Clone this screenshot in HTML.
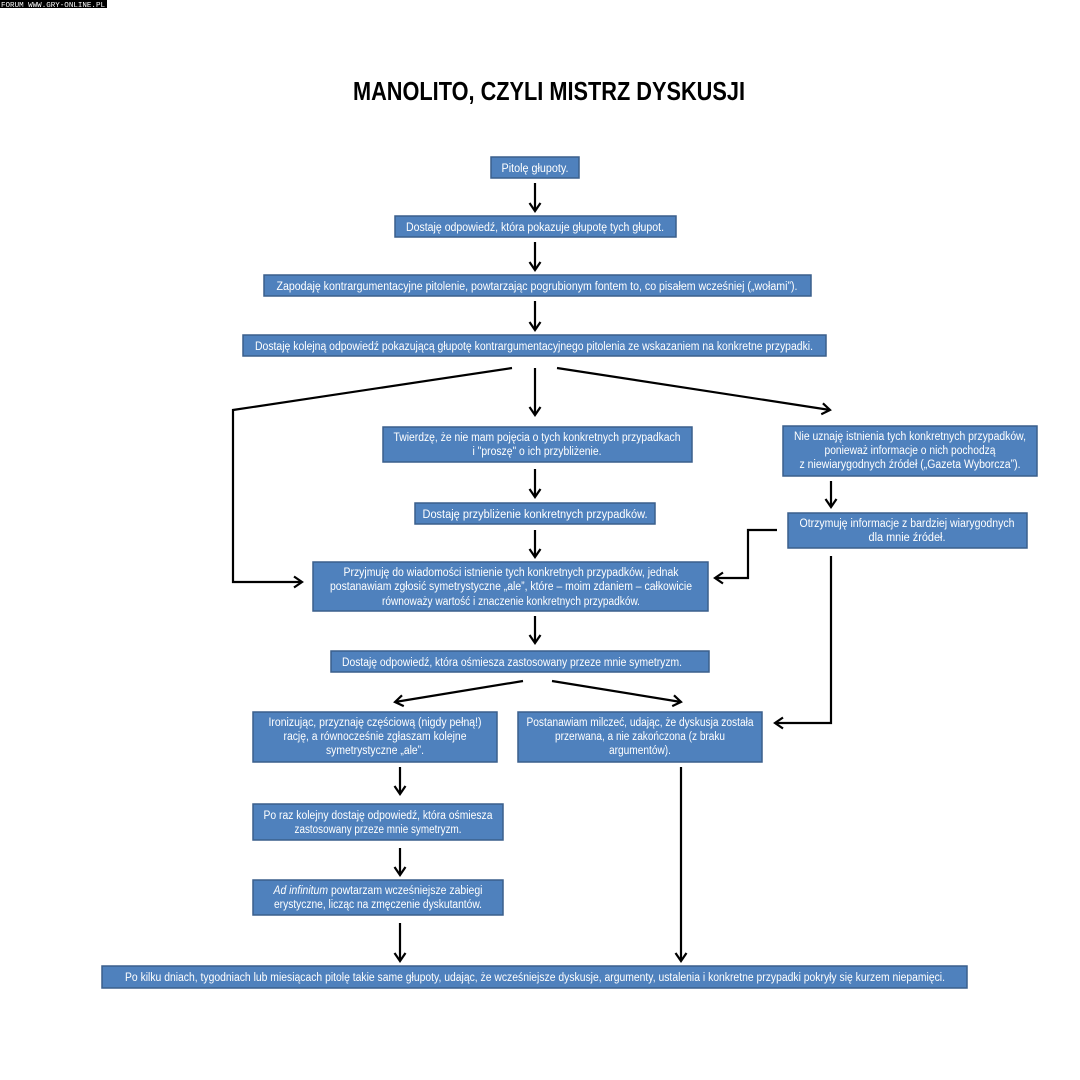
<!DOCTYPE html>
<html><head><meta charset="utf-8">
<style>
html,body{margin:0;padding:0;background:#fff;}
svg{display:block;}
.b{fill:#4F81BD;stroke:#3A5F8C;stroke-width:1.5;}
.t{fill:#fff;font-family:"Liberation Sans",sans-serif;font-size:11.5px;text-anchor:middle;}
.c{stroke:#000;stroke-width:2.2;fill:none;}
</style></head>
<body>
<svg width="1080" height="1080" viewBox="0 0 1080 1080" xmlns="http://www.w3.org/2000/svg">
<defs>
<marker id="a" markerUnits="userSpaceOnUse" markerWidth="14" markerHeight="14" refX="10" refY="7" orient="auto">
<path d="M2,1.5 L10,7 L2,12.5" stroke="#000" stroke-width="2.2" fill="none"/>
</marker>
</defs>
<rect x="0" y="0" width="1080" height="1080" fill="#fff"/>
<!-- watermark -->
<rect x="0" y="0" width="107" height="8" fill="#000"/>
<text x="1" y="7" fill="#fff" font-family="Liberation Mono,monospace" font-size="7.5" textLength="104" lengthAdjust="spacingAndGlyphs">FORUM WWW.GRY-ONLINE.PL</text>

<!-- title -->
<text x="549" y="100" font-family="Liberation Sans,sans-serif" font-weight="bold" font-size="26" text-anchor="middle" textLength="392" lengthAdjust="spacingAndGlyphs" fill="#000">MANOLITO, CZYLI MISTRZ DYSKUSJI</text>

<!-- boxes -->
<rect class="b" x="491" y="157" width="88" height="21"/>
<text class="t" x="535" y="172" textLength="67" lengthAdjust="spacingAndGlyphs">Pitolę głupoty.</text>

<rect class="b" x="395" y="216" width="281" height="21"/>
<text class="t" x="535" y="231" textLength="258" lengthAdjust="spacingAndGlyphs">Dostaję odpowiedź, która pokazuje głupotę tych głupot.</text>

<rect class="b" x="264" y="275" width="547" height="21"/>
<text class="t" x="537" y="290" textLength="521" lengthAdjust="spacingAndGlyphs">Zapodaję kontrargumentacyjne pitolenie, powtarzając pogrubionym fontem to, co pisałem wcześniej („wołami”).</text>

<rect class="b" x="243" y="335" width="583" height="21"/>
<text class="t" x="534" y="350" textLength="558" lengthAdjust="spacingAndGlyphs">Dostaję kolejną odpowiedź pokazującą głupotę kontrargumentacyjnego pitolenia ze wskazaniem na konkretne przypadki.</text>

<rect class="b" x="383" y="427" width="309" height="35"/>
<text class="t" x="537" y="441" textLength="287" lengthAdjust="spacingAndGlyphs">Twierdzę, że nie mam pojęcia o tych konkretnych przypadkach</text>
<text class="t" x="537" y="455" textLength="129" lengthAdjust="spacingAndGlyphs">i "proszę" o ich przybliżenie.</text>

<rect class="b" x="783" y="426" width="254" height="50"/>
<text class="t" x="910" y="440" textLength="232" lengthAdjust="spacingAndGlyphs">Nie uznaję istnienia tych konkretnych przypadków,</text>
<text class="t" x="910" y="454" textLength="171" lengthAdjust="spacingAndGlyphs">ponieważ informacje o nich pochodzą</text>
<text class="t" x="910" y="468" textLength="221" lengthAdjust="spacingAndGlyphs">z niewiarygodnych źródeł („Gazeta Wyborcza”).</text>

<rect class="b" x="415" y="503" width="240" height="21"/>
<text class="t" x="535" y="518" textLength="225" lengthAdjust="spacingAndGlyphs">Dostaję przybliżenie konkretnych przypadków.</text>

<rect class="b" x="788" y="513" width="239" height="35"/>
<text class="t" x="907" y="527" textLength="215" lengthAdjust="spacingAndGlyphs">Otrzymuję informacje z bardziej wiarygodnych</text>
<text class="t" x="907" y="541" textLength="77" lengthAdjust="spacingAndGlyphs">dla mnie źródeł.</text>

<rect class="b" x="313" y="562" width="395" height="49"/>
<text class="t" x="511" y="576" textLength="335" lengthAdjust="spacingAndGlyphs">Przyjmuję do wiadomości istnienie tych konkretnych przypadków, jednak</text>
<text class="t" x="511" y="590" textLength="362" lengthAdjust="spacingAndGlyphs">postanawiam zgłosić symetrystyczne „ale”, które – moim zdaniem – całkowicie</text>
<text class="t" x="511" y="605" textLength="258" lengthAdjust="spacingAndGlyphs">równoważy wartość i znaczenie konkretnych przypadków.</text>

<rect class="b" x="331" y="651" width="378" height="21"/>
<text class="t" x="512" y="666" textLength="340" lengthAdjust="spacingAndGlyphs">Dostaję odpowiedź, która ośmiesza zastosowany przeze mnie symetryzm.</text>

<rect class="b" x="253" y="712" width="244" height="50"/>
<text class="t" x="375" y="726" textLength="213" lengthAdjust="spacingAndGlyphs">Ironizując, przyznaję częściową (nigdy pełną!)</text>
<text class="t" x="375" y="740" textLength="183" lengthAdjust="spacingAndGlyphs">rację,  a równocześnie zgłaszam kolejne</text>
<text class="t" x="375" y="754" textLength="98" lengthAdjust="spacingAndGlyphs">symetrystyczne „ale”.</text>

<rect class="b" x="518" y="712" width="244" height="50"/>
<text class="t" x="640" y="726" textLength="227" lengthAdjust="spacingAndGlyphs">Postanawiam milczeć, udając, że dyskusja została</text>
<text class="t" x="640" y="740" textLength="170" lengthAdjust="spacingAndGlyphs">przerwana, a nie zakończona (z braku</text>
<text class="t" x="640" y="754" textLength="62" lengthAdjust="spacingAndGlyphs">argumentów).</text>

<rect class="b" x="253" y="804" width="250" height="36"/>
<text class="t" x="378" y="819" textLength="229" lengthAdjust="spacingAndGlyphs">Po raz kolejny dostaję odpowiedź, która ośmiesza</text>
<text class="t" x="378" y="833" textLength="167" lengthAdjust="spacingAndGlyphs">zastosowany przeze mnie symetryzm.</text>

<rect class="b" x="253" y="880" width="250" height="35"/>
<text class="t" x="378" y="894" textLength="209" lengthAdjust="spacingAndGlyphs"><tspan font-style="italic">Ad infinitum</tspan> powtarzam wcześniejsze zabiegi</text>
<text class="t" x="378" y="908" textLength="208" lengthAdjust="spacingAndGlyphs">erystyczne, licząc na zmęczenie dyskutantów.</text>

<rect class="b" x="102" y="966" width="865" height="22"/>
<text class="t" x="535" y="981" textLength="820" lengthAdjust="spacingAndGlyphs">Po kilku dniach, tygodniach lub miesiącach pitolę takie same głupoty, udając, że wcześniejsze dyskusje, argumenty, ustalenia i konkretne przypadki pokryły się kurzem niepamięci.</text>

<!-- connectors -->
<line class="c" x1="535" y1="183" x2="535" y2="211" marker-end="url(#a)"/>
<line class="c" x1="535" y1="242" x2="535" y2="270" marker-end="url(#a)"/>
<line class="c" x1="535" y1="301" x2="535" y2="330" marker-end="url(#a)"/>
<polyline class="c" points="512,368 233,410 233,582 302,582" marker-end="url(#a)"/>
<line class="c" x1="535" y1="368" x2="535" y2="415" marker-end="url(#a)"/>
<line class="c" x1="557" y1="368" x2="830" y2="410" marker-end="url(#a)"/>
<line class="c" x1="535" y1="469" x2="535" y2="497" marker-end="url(#a)"/>
<line class="c" x1="535" y1="530" x2="535" y2="557" marker-end="url(#a)"/>
<line class="c" x1="831" y1="481" x2="831" y2="507" marker-end="url(#a)"/>
<polyline class="c" points="777,530 748,530 748,578 715,578" marker-end="url(#a)"/>
<polyline class="c" points="831,556 831,723 775,723" marker-end="url(#a)"/>
<line class="c" x1="535" y1="616" x2="535" y2="643" marker-end="url(#a)"/>
<line class="c" x1="523" y1="681" x2="395" y2="702" marker-end="url(#a)"/>
<line class="c" x1="552" y1="681" x2="681" y2="702" marker-end="url(#a)"/>
<line class="c" x1="400" y1="767" x2="400" y2="794" marker-end="url(#a)"/>
<line class="c" x1="400" y1="848" x2="400" y2="875" marker-end="url(#a)"/>
<line class="c" x1="400" y1="923" x2="400" y2="961" marker-end="url(#a)"/>
<line class="c" x1="681" y1="767" x2="681" y2="961" marker-end="url(#a)"/>
</svg>
</body></html>
